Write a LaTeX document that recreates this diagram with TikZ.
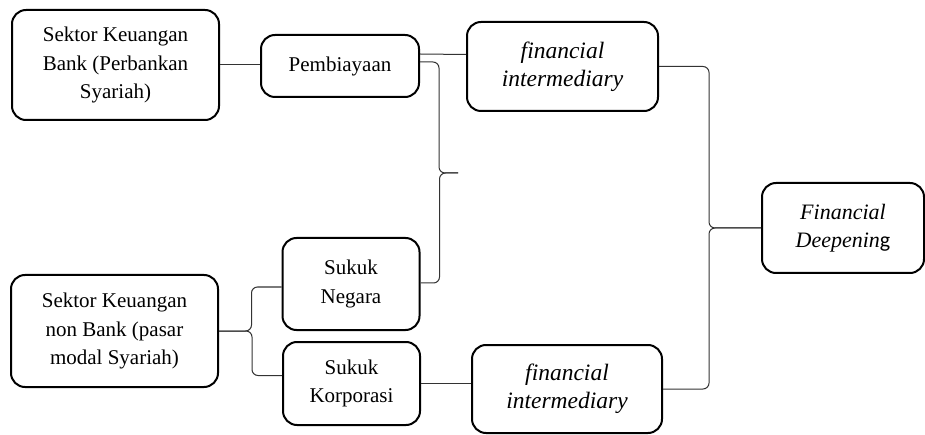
\documentclass[tikz,border=0pt]{standalone}
\usepackage{fontspec}
\setmainfont{Liberation Serif}[ItalicFont={Liberation Serif Italic}]
\newfontfamily\calibri{Carlito}
\begin{document}
\begin{tikzpicture}[x=1pt,y=-1pt]
    \tikzset{kotak/.style={draw,line width=2pt,rounded corners=14pt,align=center,inner sep=0pt,font=\fontsize{21}{28.5}\selectfont},
             miring/.style={kotak,font=\fontsize{23.5}{28}\selectfont\itshape},
             garis/.style={line width=1pt,draw=black!80},
             kurung/.style={garis,rounded corners=6pt}};
    \useasboundingbox (0,0) rectangle (925,435);
    \node[kotak,minimum width=207pt,minimum height=110pt] (bank) at (115.5,65) {Sektor Keuangan\\Bank (Perbankan\\Syariah)};
    \node[kotak,minimum width=158pt,minimum height=62pt] (pemb) at (340,66) {Pembiayaan};
    \node[miring,minimum width=191pt,minimum height=89pt] (finA) at (562.5,66.5) {financial\\intermediary};
    \node[kotak,minimum width=207pt,minimum height=112pt] (nonbank) at (114.5,331) {Sektor Keuangan\\non Bank (pasar\\modal Syariah)};
    \node[kotak,minimum width=137pt,minimum height=92pt] (negara) at (351,284) {Sukuk\\Negara};
    \node[kotak,minimum width=137pt,minimum height=83pt] (korp) at (351.5,383.5) {Sukuk\\Korporasi};
    \node[miring,minimum width=190pt,minimum height=88pt] (finB) at (567,389) {financial\\intermediary};
    \node[kotak,font=\fontsize{22}{28}\selectfont,minimum width=162pt,minimum height=90pt] (deep) at (843,228) {\textit{Financial}\\\textit{Deepenin}{\calibri g}};
    \coordinate (ujung) at (458,173);
    % garis lurus
    \draw[garis] (bank.east) -- (bank.east -| pemb.west);
    \draw[garis] ([yshift=12pt]pemb.east) -- ([yshift=12pt]finA.west);
    \draw[garis] (korp.east) -- (korp.east -| finB.west);
    % kurung kurawal
    \draw[kurung] ([yshift=4pt]pemb.east) -- ++(19,0) |- (ujung);
    \draw[kurung] ([yshift=1pt]negara.east) -- ++(19,0) |- (ujung);
    \draw[kurung] ([yshift=-3pt]negara.west) -- ++(-30,0) |- (nonbank.east);
    \draw[kurung] ([yshift=8pt]korp.west) -- ++(-30,0) |- (nonbank.east);
    \draw[kurung] (finA.east) -- ++(50,0) |- (deep.west);
    \draw[kurung] (finB.east) -- ++(46,0) |- (deep.west);
\end{tikzpicture}
\end{document}
